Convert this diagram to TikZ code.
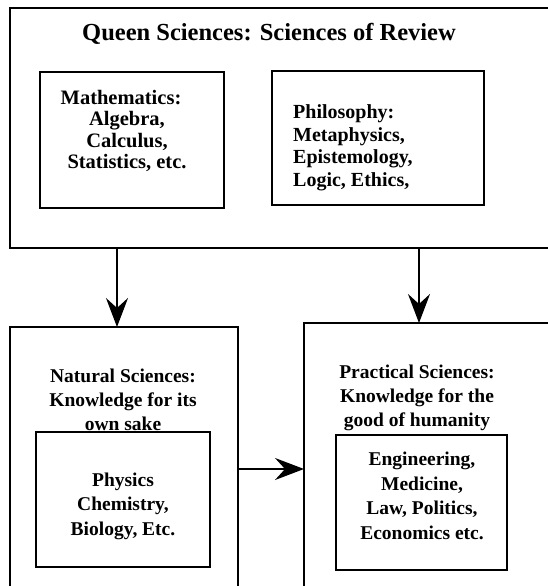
\documentclass[tikz,border=0pt]{standalone}
\usepackage{fontspec}
\setmainfont{Liberation Serif}
\usetikzlibrary{arrows.meta}
\begin{document}
\begin{tikzpicture}[x=1pt,y=-1pt,
  boxst/.style={draw=black,line width=2pt,rectangle,inner sep=0pt,outer sep=0pt},
  txt/.style={inner sep=0pt,font=\fontsize{19.5pt}{22pt}\selectfont\bfseries},
  arr/.style={line width=2pt,-{Stealth[length=29pt,width=22pt,inset=10pt]}}]
\useasboundingbox (0,0) rectangle (548,586);
\clip (0,0) rectangle (548,586);
% boxes
\node[boxst,minimum width=550pt,minimum height=240pt] (queen) at (285,128) {};
\node[boxst,minimum width=184pt,minimum height=136pt] (math) at (132,140) {};
\node[boxst,minimum width=212pt,minimum height=134pt] (philo) at (378,138) {};
\node[boxst,minimum width=228pt,minimum height=273pt] (natural) at (124,463.5) {};
\node[boxst,minimum width=174pt,minimum height=135pt] (natin) at (123,499.5) {};
\node[boxst,minimum width=256pt,minimum height=277pt] (practical) at (432,461.5) {};
\node[boxst,minimum width=171pt,minimum height=135pt] (pracin) at (421.5,502.5) {};
% texts
\node[txt,font=\fontsize{24.5pt}{28pt}\selectfont\bfseries] (title) at (269,34) {Queen Sciences: Sciences of Review};
\node[txt,align=center,font=\fontsize{20.5pt}{21.5pt}\selectfont\bfseries] (mtxt) at (127,131) {Mathematics:\hspace*{12pt}\\Algebra,\\Calculus,\\Statistics, etc.};
\node[txt,align=left,anchor=west,font=\fontsize{20pt}{22.5pt}\selectfont\bfseries] (ptxt) at (293,148) {Philosophy:\\Metaphysics,\\Epistemology,\\Logic, Ethics,};
\node[txt,align=center,font=\fontsize{19.5pt}{24pt}\selectfont\bfseries] (ntxt) at (123,400) {Natural Sciences:\\Knowledge for its\\own sake};
\node[txt,align=center,font=\fontsize{19.5pt}{24.5pt}\selectfont\bfseries] (nitxt) at (123,506) {Physics\\Chemistry,\\Biology, Etc.};
\node[txt,align=center,font=\fontsize{19.5pt}{24pt}\selectfont\bfseries] (prtxt) at (417,398) {Practical Sciences:\\Knowledge for the\\good of humanity};
\node[txt,align=center,font=\fontsize{19.5pt}{24.7pt}\selectfont\bfseries] (pitxt) at (422,496) {Engineering,\\Medicine,\\Law, Politics,\\Economics etc.};
% connectors
\coordinate (la) at (117,0);
\coordinate (ra) at (419,0);
\coordinate (hy) at (0,469);
\draw[arr] (la |- queen.south) -- (la |- natural.north);
\draw[arr] (ra |- queen.south) -- (ra |- practical.north);
\draw[arr] (natural.east |- hy) -- (practical.west |- hy);
\end{tikzpicture}
\end{document}
